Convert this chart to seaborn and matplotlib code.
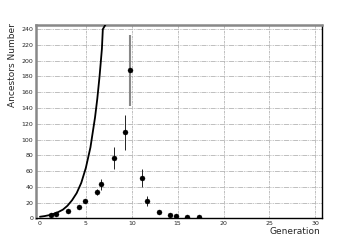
import numpy as np
import pandas as pd
import matplotlib
matplotlib.use('Agg')
import matplotlib.pyplot as plt
import seaborn as sns

generation = [1.2, 1.8, 3.1, 4.3, 4.9, 6.2, 6.7, 8.05, 9.3, 9.85, 11.1, 11.7, 13.0, 14.2, 14.85, 16.05, 17.35]
ancestors = [4, 6, 9, 14, 22, 33, 43, 77, 109, 188, 51, 22, 8, 4, 3, 2, 2]
errors = [1, 1, 1.5, 2, 3, 4, 7, 14, 22, 45, 11, 6, 2, 1.5, 1, 1, 1]

# Theoretical curve points
curve_x = [0, 0.5, 1, 1.5, 2, 2.5, 3, 3.5, 4, 4.5, 5, 5.5, 6, 6.25, 6.5, 6.75, 6.85, 7.15]
curve_y = [2, 2.8, 4, 5.7, 8, 11, 16, 23, 32, 45, 64, 90, 128, 152, 181, 215, 240, 246]

df = pd.DataFrame({'Generation': generation, 'Ancestors': ancestors, 'err': errors})
curve = pd.DataFrame({'x': curve_x, 'y': curve_y})

sns.set_style('white')
fig = plt.figure(figsize=(3.58, 2.43), dpi=100)
ax = fig.add_axes([0.1006, 0.1016, 0.798, 0.797])

# grid
for gx in [5, 10, 15, 20, 25, 30]:
    ax.axvline(gx, color='#b4b4b4', lw=0.6, ls=(0, (3, 1, 1, 1)), zorder=0)
for gy in range(20, 241, 20):
    ax.axhline(gy, color='#b4b4b4', lw=0.6, ls=(0, (6, 1, 1, 1, 1, 1)), zorder=0)

sns.lineplot(data=curve, x='x', y='y', sort=False, color='black', lw=1.3, ax=ax, zorder=3)

big = df['err'] > 30
ax.errorbar(df.loc[~big, 'Generation'], df.loc[~big, 'Ancestors'], yerr=df.loc[~big, 'err'],
            fmt='none', ecolor='black', elinewidth=0.6, zorder=2)
ax.errorbar(df.loc[big, 'Generation'], df.loc[big, 'Ancestors'], yerr=df.loc[big, 'err'],
            fmt='none', ecolor='#888888', elinewidth=1.5, zorder=2)
sns.scatterplot(data=df, x='Generation', y='Ancestors', color='black', s=13, edgecolor='black', ax=ax, zorder=4)

ax.set_xlim(-0.43, 30.7)
ax.set_ylim(0, 245.8)
ax.set_xticks([0, 5, 10, 15, 20, 25, 30])
ax.set_yticks(range(0, 241, 20))
ax.tick_params(labelsize=4.5, direction='in', length=2, pad=2)

ax.spines['top'].set_color('#888888')
ax.spines['top'].set_linewidth(1.8)
ax.spines['left'].set_color('#888888')
ax.spines['left'].set_linewidth(1.8)
ax.spines['right'].set_color('black')
ax.spines['right'].set_linewidth(1.0)
ax.spines['bottom'].set_color('black')
ax.spines['bottom'].set_linewidth(1.0)

ax.set_xlabel('Generation', fontsize=6.5, loc='right')
ax.xaxis.set_label_coords(0.994, -0.045)
ax.set_ylabel('Ancestors Number', fontsize=6.5, loc='top')
ax.yaxis.set_label_coords(-0.065, 1.009)

fig.savefig('out.png', dpi=100)
